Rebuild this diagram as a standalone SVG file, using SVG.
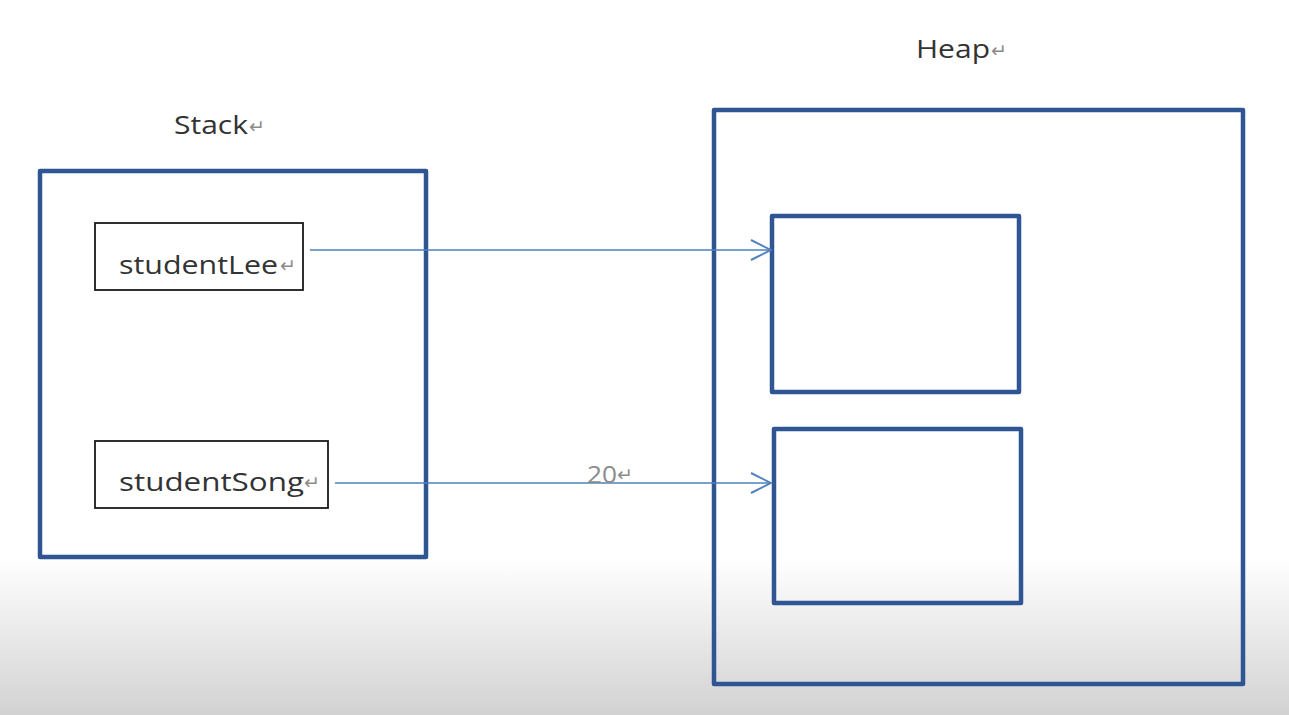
<svg xmlns="http://www.w3.org/2000/svg" width="1289" height="715" viewBox="0 0 1289 715">
<defs>
<linearGradient id="bg" x1="0" y1="0" x2="0" y2="715" gradientUnits="userSpaceOnUse">
<stop offset="0" stop-color="#ffffff"/>
<stop offset="0.78" stop-color="#ffffff"/>
<stop offset="1" stop-color="#d2d2d2"/>
</linearGradient>
<marker id="chev" viewBox="0 0 24 24" markerWidth="24" markerHeight="24" refX="22" refY="12" orient="auto" markerUnits="userSpaceOnUse">
<path d="M2,2 L22,12 L2,22" fill="none" stroke="#4f81bd" stroke-width="2"/>
</marker>
</defs>
<style>
.frame{fill:none;stroke:#2f5593;stroke-width:4.5;stroke-linejoin:round}
.var{fill:#ffffff;stroke:#1a1a1a;stroke-width:1.8}
.lbl{font-family:"Open Sans","DejaVu Sans",sans-serif;font-size:26px;fill:#333333}
.ret{font-family:"DejaVu Sans",sans-serif;font-size:19px;fill:#8a8a8a}
.conn{fill:none;stroke:#4f81bd;stroke-width:1.6}
.num{font-family:"Open Sans","DejaVu Sans",sans-serif;font-size:24px;fill:#8c8c8c}
</style>
<rect x="0" y="0" width="1289" height="715" fill="url(#bg)"/>
<g id="stack">
<text class="lbl" x="174" y="134" textLength="74" lengthAdjust="spacingAndGlyphs">Stack</text>
<text class="ret" x="249" y="133">↵</text>
<rect class="frame" x="40" y="171" width="386" height="386"/>
</g>
<g id="heap">
<text class="lbl" x="916" y="58" textLength="74" lengthAdjust="spacingAndGlyphs">Heap</text>
<text class="ret" x="991" y="57">↵</text>
<rect class="frame" x="714" y="110" width="529" height="574"/>
</g>
<g id="heapObj1">
<rect class="frame" x="772" y="216" width="247" height="176"/>
</g>
<g id="heapObj2">
<rect class="frame" x="774" y="429" width="247" height="174"/>
</g>
<g id="studentLee">
<rect class="var" x="95" y="223" width="208" height="67"/>
<text class="lbl" x="119" y="274" textLength="159" lengthAdjust="spacingAndGlyphs">studentLee</text>
<text class="ret" x="280" y="272">↵</text>
</g>
<g id="studentSong">
<rect class="var" x="95" y="441" width="233" height="67"/>
<text class="lbl" x="119" y="491" textLength="185" lengthAdjust="spacingAndGlyphs">studentSong</text>
<text class="ret" x="304" y="489">↵</text>
</g>
<g id="connectors">
<line class="conn" x1="310" y1="250" x2="771" y2="250" marker-end="url(#chev)"/>
<line class="conn" x1="335" y1="483" x2="771" y2="483" marker-end="url(#chev)"/>
<text class="num" x="587" y="483" textLength="30" lengthAdjust="spacingAndGlyphs">20</text>
<text class="ret" x="617" y="481">↵</text>
</g>
</svg>
